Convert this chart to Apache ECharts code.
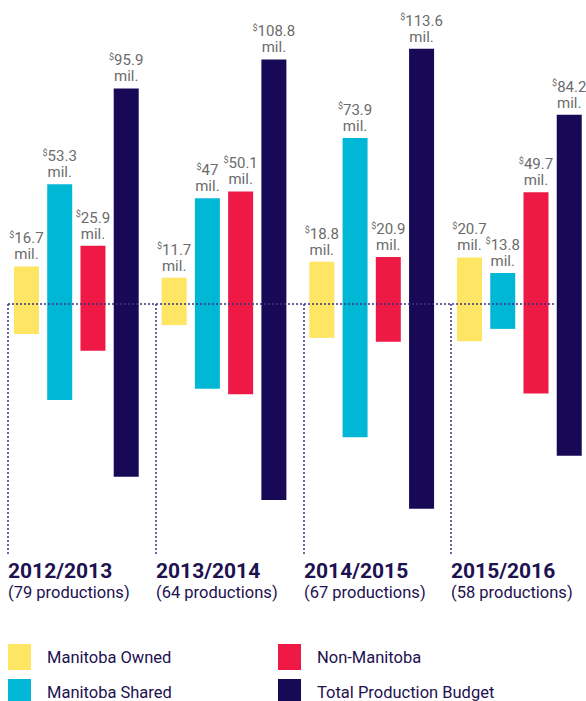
<!DOCTYPE html>
<html>
<head>
<meta charset="utf-8">
<script src="https://cdn.jsdelivr.net/npm/echarts@6/dist/echarts.min.js"></script>
<style>
  html, body { margin: 0; padding: 0; background: #fff; }
  #main { width: 586px; height: 701px; }
</style>
</head>
<body>
<div id="main"></div>
<script>
// data ($ millions)
const seasons = ["2012/2013", "2013/2014", "2014/2015", "2015/2016"];
const productions = [79, 64, 67, 58];
const owned = [16.7, 11.7, 18.8, 20.7];
const shared = [53.3, 47, 73.9, 13.8];
const nonManitoba = [25.9, 50.1, 20.9, 49.7];
const totalBudget = [95.9, 108.8, 113.6, 84.2];

const groups = [
  { name: "Manitoba Owned", data: owned, color: "#FEE564" },
  { name: "Manitoba Shared", data: shared, color: "#00B7D5" },
  { name: "Non-Manitoba", data: nonManitoba, color: "#EE1945" },
  { name: "Total Production Budget", data: totalBudget, color: "#180956" },
];

// bars float across the baseline: this share of each bar sits above it
const above = 0.555;
const navy = "#1d1150";
const font = "Roboto";

const chart = echarts.init(document.getElementById("main"), null, { renderer: "svg" });

const series = [];
groups.forEach((g, i) => {
  const common = {
    name: g.name,
    type: "bar",
    stack: "s" + i,
    barWidth: 25,
    barGap: "33%",
    itemStyle: { color: g.color },
    emphasis: { disabled: true },
  };
  series.push({ ...common, data: g.data.map(v => -v * (1 - above)) });
  series.push({
    ...common,
    data: g.data.map(v => v * above),
    label: {
      show: true,
      position: "top",
      distance: 4,
      color: "#6b6b6b",
      fontFamily: font,
      formatter: p => "{s|$}{v|" + g.data[p.dataIndex] + "}\n{v|mil.}",
      rich: {
        s: { fontSize: 9, verticalAlign: "top", lineHeight: 16, fontFamily: font, color: "#6b6b6b" },
        v: { fontSize: 15, lineHeight: 16, fontFamily: font, color: "#6b6b6b" },
      },
    },
  });
});

const legendCommon = {
  orient: "vertical",
  top: 644,
  height: 120,
  itemWidth: 23,
  itemHeight: 26,
  itemGap: 9,
  padding: 0,
  icon: "rect",
  selectedMode: false,
  textStyle: { fontSize: 16.5, color: navy, fontFamily: font, padding: [0, 0, 0, 11] },
};

chart.setOption({
  animation: false,
  legend: [
    { ...legendCommon, left: 8, data: groups.slice(0, 2).map(g => g.name) },
    { ...legendCommon, left: 278, data: groups.slice(2).map(g => g.name) },
  ],
  grid: { left: 2.5, width: 590.7, top: 0.25, height: 546.75, outerBoundsMode: "none" },
  xAxis: { type: "category", data: seasons, show: false },
  yAxis: { type: "value", min: -60, max: 75, show: false },
  series: series,
});

// baseline, group separators and season labels
const y0 = chart.convertToPixel({ yAxisIndex: 0 }, 0);
const sepX = seasons.map(s => Math.round(chart.convertToPixel({ xAxisIndex: 0 }, s) - 68));
const lineStyle = { stroke: "#3d3280", lineWidth: 1.5, lineDash: [2, 2] };
const graphic = [
  { type: "line", z: 100, shape: { x1: sepX[0], y1: y0, x2: sepX[3] + 105, y2: y0 }, style: lineStyle },
];
seasons.forEach((s, i) => {
  graphic.push({ type: "line", z: 100, shape: { x1: sepX[i], y1: y0, x2: sepX[i], y2: 555 }, style: lineStyle });
  graphic.push({
    type: "text", x: sepX[i], y: 571,
    style: { text: s, fill: navy, font: "bold 21px " + font, verticalAlign: "middle" },
  });
  graphic.push({
    type: "text", x: sepX[i], y: 592,
    style: { text: "(" + productions[i] + " productions)", fill: navy, font: "16.5px " + font, verticalAlign: "middle" },
  });
});
chart.setOption({ graphic: graphic });
</script>
</body>
</html>
